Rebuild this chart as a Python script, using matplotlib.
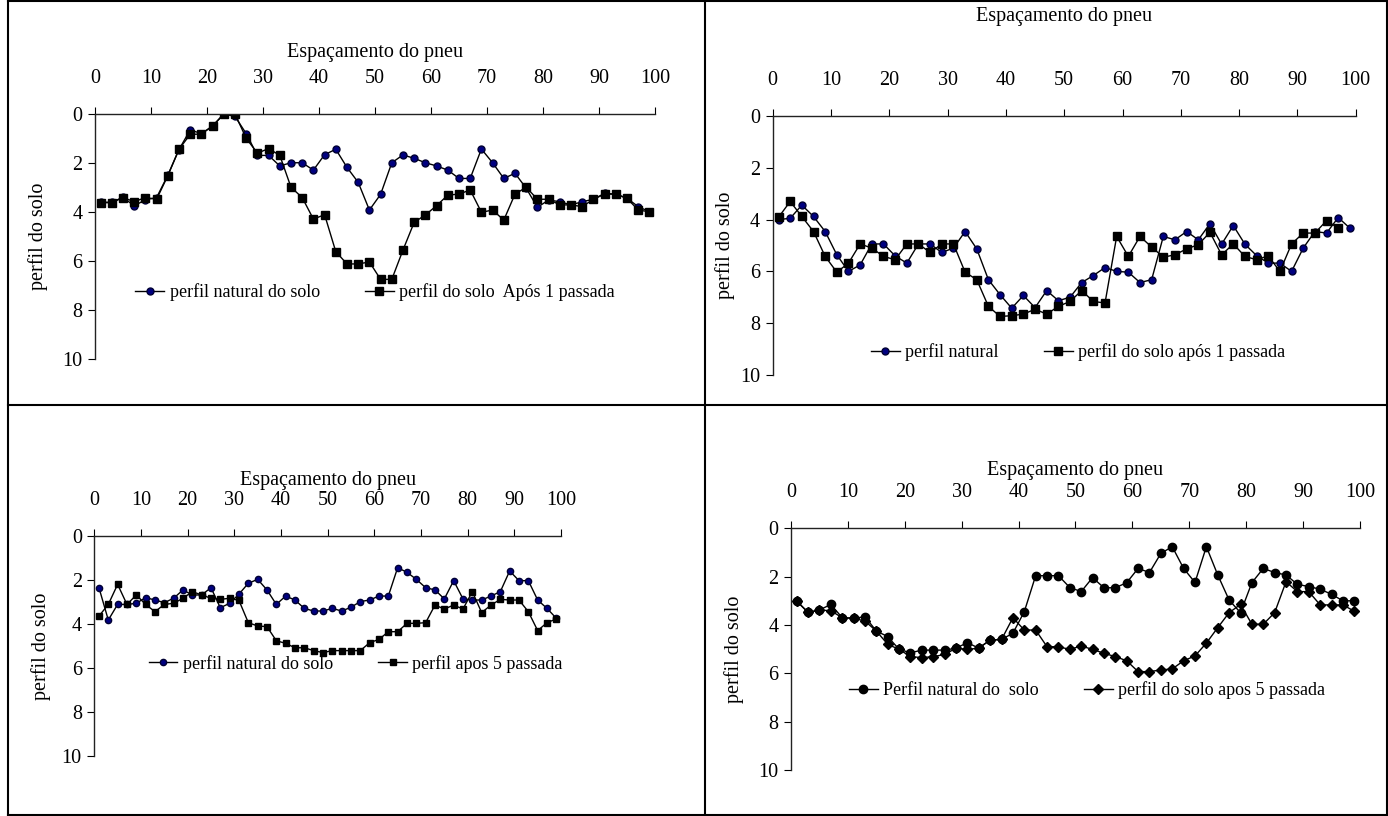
import numpy as np
import matplotlib
matplotlib.use('Agg')
from matplotlib import pyplot as plt
from matplotlib.lines import Line2D

plt.rcParams['font.family'] = ['Liberation Serif', 'DejaVu Serif']

# tyre spacing positions (odd values 1..99)
x_pos = np.arange(1, 100, 2)

# top left: natural profile vs after 1 pass
natural_1 = [3.6, 3.6, 3.4, 3.75, 3.5, 3.41, 2.5, 1.45, 0.65, 0.8, 0.5, 0.0, 0.1,
             0.8, 1.69, 1.69, 2.12, 1.99, 1.99, 2.29, 1.66, 1.44, 2.18, 2.79, 3.92,
             3.28, 1.99, 1.67, 1.81, 1.99, 2.12, 2.29, 2.63, 2.63, 1.43, 1.99, 2.63, 2.42,
             3.03, 3.81, 3.51, 3.58, 3.71, 3.58, 3.48, 3.24, 3.27, 3.44, 3.78, 3.99]
pass1_1 = [3.62, 3.62, 3.41, 3.58, 3.41, 3.48, 2.52, 1.44, 0.83, 0.82, 0.48, 0.0, 0.0,
           0.99, 1.6, 1.41, 1.69, 2.99, 3.41, 4.29, 4.11, 5.62, 6.12, 6.12, 6.04,
           6.75, 6.75, 5.55, 4.42, 4.12, 3.74, 3.31, 3.27, 3.1, 4.01, 3.92, 4.33, 3.27,
           2.99, 3.48, 3.48, 3.71, 3.71, 3.78, 3.48, 3.27, 3.27, 3.44, 3.92, 3.99]

# top right
natural_2 = [4.0, 3.95, 3.44, 3.88, 4.46, 5.36, 6.0, 5.75, 4.94, 4.94, 5.4, 5.68, 4.94,
             4.94, 5.27, 5.1, 4.46, 5.13, 6.32, 6.9, 7.42, 6.93, 7.4, 6.74, 7.13,
             7.0, 6.43, 6.16, 5.85, 6.0, 6.03, 6.43, 6.32, 4.65, 4.78, 4.46, 4.78, 4.16,
             4.95, 4.23, 4.95, 5.39, 5.68, 5.68, 6.0, 5.1, 4.46, 4.52, 3.92, 4.33]
pass1_2 = [3.91, 3.3, 3.88, 4.46, 5.42, 6.03, 5.68, 4.94, 5.1, 5.42, 5.55, 4.94, 4.94,
           5.27, 4.94, 4.94, 6.03, 6.32, 7.35, 7.74, 7.71, 7.65, 7.46, 7.65, 7.35,
           7.16, 6.74, 7.16, 7.22, 4.65, 5.42, 4.65, 5.06, 5.45, 5.36, 5.13, 4.97, 4.49,
           5.36, 4.94, 5.42, 5.55, 5.4, 6.0, 4.94, 4.52, 4.52, 4.04, 4.33]

# bottom left: natural vs after 5 passes
natural_3 = [2.35, 3.82, 3.11, 3.11, 3.06, 2.8, 2.91, 3.03, 2.83, 2.45, 2.68, 2.68, 2.35,
             3.26, 3.06, 2.64, 2.15, 1.97, 2.45, 3.11, 2.73, 2.91, 3.29, 3.41, 3.41,
             3.29, 3.41, 3.24, 2.98, 2.91, 2.73, 2.73, 1.44, 1.65, 1.97, 2.35, 2.45, 2.86,
             2.03, 2.86, 2.91, 2.91, 2.73, 2.53, 1.59, 2.03, 2.03, 2.91, 3.29, 3.74]
pass5_3 = [3.64, 3.11, 2.2, 3.11, 2.68, 3.11, 3.44, 3.11, 3.06, 2.83, 2.53, 2.68, 2.83,
           2.88, 2.83, 2.93, 3.94, 4.09, 4.12, 4.76, 4.88, 5.08, 5.08, 5.21, 5.3,
           5.21, 5.21, 5.21, 5.21, 4.85, 4.7, 4.35, 4.35, 3.97, 3.97, 3.94, 3.14, 3.32,
           3.14, 3.32, 2.53, 3.48, 3.14, 2.88, 2.91, 2.91, 3.44, 4.3, 3.94, 3.77]

# bottom right
natural_4 = [3.01, 3.48, 3.38, 3.15, 3.7, 3.72, 3.66, 4.25, 4.48, 5.01, 5.15, 5.04, 5.04,
             5.04, 4.96, 4.73, 4.96, 4.62, 4.6, 4.34, 3.45, 1.96, 1.96, 1.96, 2.45,
             2.62, 2.04, 2.46, 2.46, 2.25, 1.66, 1.83, 1.04, 0.76, 1.66, 2.24, 0.76, 1.93,
             2.97, 3.49, 2.25, 1.66, 1.83, 1.93, 2.32, 2.41, 2.52, 2.73, 3.0, 3.0]
pass5_4 = [3.01, 3.48, 3.38, 3.41, 3.7, 3.72, 3.84, 4.25, 4.8, 5.01, 5.31, 5.35, 5.31,
           5.22, 4.96, 5.01, 4.96, 4.62, 4.6, 3.7, 4.21, 4.21, 4.9, 4.9, 5.01,
           4.87, 5.01, 5.17, 5.31, 5.48, 5.93, 5.93, 5.86, 5.82, 5.48, 5.28, 4.75, 4.11,
           3.49, 3.15, 3.97, 3.97, 3.49, 2.21, 2.62, 2.62, 3.17, 3.17, 3.17, 3.43]

W, H = 1388, 816
fig = plt.figure(figsize=(W / 100, H / 100), dpi=100)


def px_rect(left, top, right, bottom):
    return [left / W, 1 - bottom / H, (right - left) / W, (bottom - top) / H]


def setup(ax, title_pad, ylab_pad):
    ax.set_xlim(0, 100)
    ax.set_ylim(10, 0)
    ax.set_xticks(np.arange(0, 101, 10))
    ax.set_yticks(np.arange(0, 11, 2))
    ax.xaxis.tick_top()
    ax.xaxis.set_label_position('top')
    ax.spines['bottom'].set_visible(False)
    ax.spines['right'].set_visible(False)
    for s in ['top', 'left']:
        ax.spines[s].set_linewidth(1.0)
        ax.spines[s].set_color('#222222')
    ax.tick_params(axis='x', direction='out', length=5, pad=14, labelsize=14.5)
    ax.tick_params(axis='y', direction='out', length=5, pad=4, labelsize=14.5)
    ax.set_xlabel('Espaçamento do pneu', fontsize=14.5, labelpad=title_pad)
    ax.set_ylabel('perfil do solo', fontsize=14.5, labelpad=ylab_pad)


navy = dict(marker='o', color='black', lw=1, markerfacecolor='#000080', markeredgecolor='#000033')
sq = dict(marker='s', color='black', lw=1, markerfacecolor='black', markeredgecolor='black')
leg_kw = dict(loc='center', ncol=2, frameon=False, fontsize=13, handlelength=1.6,
              handletextpad=0.3, columnspacing=2.5)

ax1 = fig.add_axes(px_rect(95, 114, 655, 359))
ax1.plot(x_pos, natural_1, ms=5, label='perfil natural do solo', **navy)
ax1.plot(x_pos, pass1_1, ms=5.5, label='perfil do solo  Após 1 passada', **sq)
setup(ax1, 8, 10)
ax1.legend(bbox_to_anchor=(0.5, 0.273), **leg_kw)

ax2 = fig.add_axes(px_rect(772.7, 116, 1355.7, 375))
ax2.plot(x_pos, natural_2, ms=5, label='perfil natural', **navy)
ax2.plot(x_pos[:len(pass1_2)], pass1_2, ms=5.5, label='perfil do solo após 1 passada', **sq)
setup(ax2, 36, 4)
ax2.legend(bbox_to_anchor=(0.524, 0.089), **leg_kw)

ax3 = fig.add_axes(px_rect(94.3, 536, 561, 756))
ax3.plot(x_pos, natural_3, ms=4.5, label='perfil natural do solo', **navy)
ax3.plot(x_pos, pass5_3, ms=4.5, label='perfil apos 5 passada', **sq)
setup(ax3, 4, 8)
ax3.legend(bbox_to_anchor=(0.56, 0.42), **leg_kw)

ax4 = fig.add_axes(px_rect(791, 528.3, 1360, 770))
ax4.plot(x_pos, natural_4, marker='o', color='black', lw=1, ms=6, label='Perfil natural do  solo')
ax4.plot(x_pos, pass5_4, marker='D', color='black', lw=1, ms=5, label='perfil do solo apos 5 passada')
setup(ax4, 6, 10)
ax4.legend(bbox_to_anchor=(0.52, 0.33), **leg_kw)

# table borders
def border(x0, y0, x1, y1):
    fig.add_artist(Line2D([x0 / W, x1 / W], [1 - y0 / H, 1 - y1 / H],
                          transform=fig.transFigure, color='black', lw=1.5))

border(8, 1, 1387, 1)
border(8, 405, 1387, 405)
border(8, 815, 1387, 815)
border(8, 1, 8, 815)
border(705, 1, 705, 815)
border(1387, 1, 1387, 815)

fig.savefig('out.png', dpi=100)
